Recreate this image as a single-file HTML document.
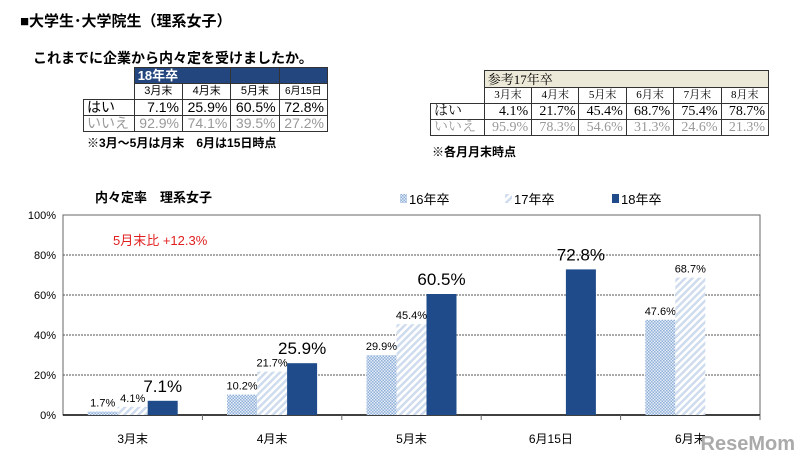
<!DOCTYPE html>
<html><head><meta charset="utf-8">
<style>
body{margin:0;width:800px;height:459px;background:#fff;overflow:hidden;font-family:"Liberation Sans","Noto Sans CJK JP",sans-serif;position:relative}
.abs{position:absolute}
table{border-collapse:collapse;position:absolute;font-size:12px}
td{border:1px solid #333;padding:0 3px;text-align:right;height:15px;line-height:15px}
</style></head><body>
<div class="abs" style="left:20px;top:10px;font-size:15px;font-weight:bold">■大学生･大学院生（理系女子）</div>
<div class="abs" style="left:33px;top:48px;font-size:14px;font-weight:bold">これまでに企業から内々定を受けましたか。</div>

<table style="left:83px;top:67px;width:245px">
<tr><td style="border:none"></td><td colspan="2" style="background:#24467f;color:#fff;font-weight:bold;text-align:left;font-size:13px">18年卒</td><td style="background:#24467f"></td><td style="background:#24467f"></td></tr>
<tr style="font-size:11px"><td style="border:none;border-bottom:1px solid #333"></td><td style="text-align:center">3月末</td><td style="text-align:center">4月末</td><td style="text-align:center">5月末</td><td style="text-align:center;font-size:10px">6月15日</td></tr>
<tr style="font-size:14px"><td style="text-align:left">はい</td><td>7.1%</td><td>25.9%</td><td>60.5%</td><td>72.8%</td></tr>
<tr style="font-size:14px;color:#999"><td style="text-align:left">いいえ</td><td>92.9%</td><td>74.1%</td><td>39.5%</td><td>27.2%</td></tr>
</table>
<div class="abs" style="left:87px;top:134px;font-size:12px;font-weight:bold">※3月～5月は月末　6月は15日時点</div>

<table style="left:430px;top:70px;width:339px;font-family:'Liberation Serif','Noto Serif CJK SC',serif">
<tr><td style="border:none"></td><td colspan="6" style="background:#ece9d8;text-align:left;font-size:13px;height:16px">参考17年卒</td></tr>
<tr style="font-size:11px"><td style="border:none;border-bottom:1px solid #333"></td><td style="text-align:center">3月末</td><td style="text-align:center">4月末</td><td style="text-align:center">5月末</td><td style="text-align:center">6月末</td><td style="text-align:center">7月末</td><td style="text-align:center">8月末</td></tr>
<tr style="font-size:14px"><td style="text-align:left">はい</td><td>4.1%</td><td>21.7%</td><td>45.4%</td><td>68.7%</td><td>75.4%</td><td>78.7%</td></tr>
<tr style="font-size:14px;color:#999"><td style="text-align:left">いいえ</td><td>95.9%</td><td>78.3%</td><td>54.6%</td><td>31.3%</td><td>24.6%</td><td>21.3%</td></tr>
</table>
<div class="abs" style="left:432px;top:143px;font-size:12px;font-weight:bold">※各月月末時点</div>

<svg id="chart" class="abs" style="left:0;top:0" width="800" height="459">
<defs>
<pattern id="dots" width="3" height="3" patternUnits="userSpaceOnUse"><rect width="3" height="3" fill="#e4edf8"/><rect width="1.5" height="1.5" fill="#8fb0d8"/><rect x="1.5" y="1.5" width="1.5" height="1.5" fill="#8fb0d8"/></pattern>
<pattern id="diag" width="5" height="5" patternUnits="userSpaceOnUse" patternTransform="rotate(45)"><rect width="5" height="5" fill="#fff"/><rect width="2.5" height="5" fill="#cfdcee"/></pattern>
</defs>
</svg>
<script>
const categories=["3月末","4月末","5月末","6月15日","6月末"];
const s16=[1.7,10.2,29.9,null,47.6];
const s17=[4.1,21.7,45.4,null,68.7];
const s18=[7.1,25.9,60.5,72.8,null];
const yTicks=[0,20,40,60,80,100];
const svg=document.getElementById('chart');
const NS='http://www.w3.org/2000/svg';
const X0=63,X1=760,Y0=415,Y1=215;
const cw=(X1-X0)/categories.length;
const y=v=>Y0-(v/100)*(Y0-Y1);
const cx=i=>X0+cw*(i+0.5);
function mk(t,a,txt){const e=document.createElementNS(NS,t);for(const k in a)e.setAttribute(k,a[k]);if(txt!=null)e.textContent=txt;svg.appendChild(e);return e;}
let e=mk('text',{x:95,y:202,'font-size':13,'font-weight':'bold'},'内々定率　理系女子');


e=mk('rect',{x:X0,y:Y1,width:X1-X0,height:Y0-Y1,fill:'none',stroke:'#666'});


yTicks.forEach(t=>{
 if(t>0&&t<100){const g=mk('line',{x1:X0,x2:X1,y1:y(t),y2:y(t),stroke:'#555','stroke-dasharray':'2,1'});}
 const l=mk('text',{x:X0-7,y:y(t)+4,'text-anchor':'end','font-size':11},t+'%');
 
 
});
mk('line',{x1:X0,x2:X1,y1:Y0,y2:Y0,stroke:'#000','stroke-width':1.5});
categories.forEach((c,i)=>{
 const tk=mk('line',{x1:X0+cw*(i+1),x2:X0+cw*(i+1),y1:Y0,y2:Y0+5,stroke:'#666'});
 
 
 const l=mk('text',{x:cx(i),y:Y0+28,'text-anchor':'middle','font-size':12},c);
 
 
});
const bw=30;
const series=[[s16,'url(#dots)',11,'#000'],[s17,'url(#diag)',11,'#000'],[s18,'#1f4b8a',17,'#000']];
series.forEach(([arr,fill,fs],si)=>{
 arr.forEach((v,i)=>{
  if(v==null)return;
  const x=cx(i)-45+si*bw;
  const r=mk('rect',{x:x,y:y(v),width:bw,height:Y0-y(v),fill:fill});
  
  
  const t=mk('text',{x:x+bw/2,y:y(v)-(si==2?9:5),'text-anchor':'middle','font-size':fs},v.toFixed(1)+'%');
  
  
 });
});
e=mk('text',{x:113,y:245,'font-size':13,fill:'#e02020'},'5月末比 +12.3%');


[['url(#dots)','16年卒',400],['url(#diag)','17年卒',505],['#1f4b8a','18年卒',612]].forEach(([f,l,x])=>{
 const r=mk('rect',{x:x,y:194,width:7,height:9,fill:f});
 
 
 const t=mk('text',{x:x+9,y:204,'font-size':13},l);
 
 
});
e=mk('text',{x:795,y:450,'text-anchor':'end','font-size':20,'font-weight':'bold',fill:'#aaa'},'ReseMom');


</script>
</body></html>
